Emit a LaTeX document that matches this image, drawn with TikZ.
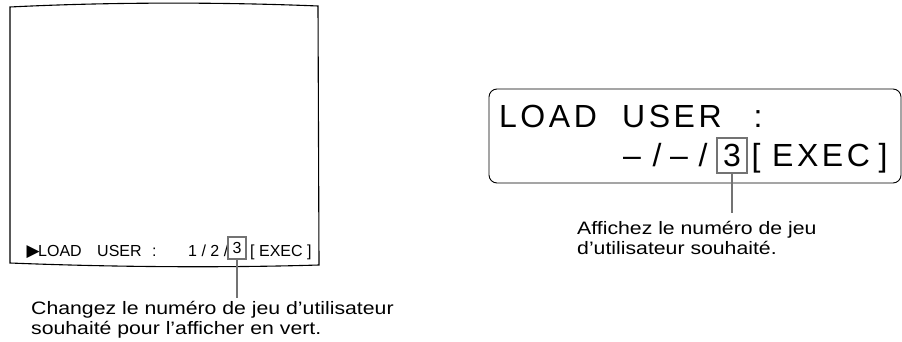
\documentclass[tikz,border=0pt]{standalone}
\usepackage{fontspec}
\setmainfont{Liberation Sans}
\newfontfamily\lcdfont[LetterSpace=11]{Liberation Sans}
\newfontfamily\notefont[FakeStretch=1.18]{Liberation Sans}
\newfontfamily\symfont{DejaVu Sans}
\usetikzlibrary{positioning}
\tikzstyle{screen}=[draw,line width=1.1pt]
\tikzstyle{lcdbox}=[rectangle,draw,rounded corners=8pt,line width=0.9pt,minimum width=412pt,minimum height=94pt]
\tikzstyle{lcdtxt}=[inner sep=0pt,anchor=base west,font=\lcdfont\fontsize{32}{36}\selectfont]
\tikzstyle{lcdchar}=[inner sep=0pt,anchor=base,font=\fontsize{32}{36}\selectfont]
\tikzstyle{osdtxt}=[inner sep=0pt,anchor=base west,font=\fontsize{16}{18}\selectfont]
\tikzstyle{selbox}=[rectangle,draw=black!55,line width=1.4pt,inner sep=0pt]
\tikzstyle{note}=[inner sep=0pt,anchor=north west,align=left,font=\notefont\fontsize{18}{20}\selectfont]
\tikzstyle{lead}=[draw=black!55,line width=1.2pt]

\begin{document}
\begin{tikzpicture}[x=1pt,y=-1pt]
\useasboundingbox (0,0) rectangle (902,342);
% monitor screen
\draw[screen] (10,7) .. controls (110,2) and (220,2) .. (318,6) -- (319,265)
  .. controls (220,268) and (110,267) .. (10,263) -- cycle;
\node[osdtxt] (oarrow) at (26.5,256.5) {\symfont\fontsize{17}{18}\selectfont ▶};
\node[osdtxt] (oload) at (38,256) {LOAD};
\node[osdtxt] (ouser) at (97,256) {USER};
\node[osdtxt] (ocolon) at (152,256) {:};
\node[osdtxt] (onums) at (188,256) {1 / 2 /};
\node[selbox,minimum width=18pt,minimum height=22pt,font=\fontsize{16}{18}\selectfont] (osel) at (237,248) {3};
\node[osdtxt] (oexec) at (250,256) {[ EXEC ]};
\coordinate (oleadend) at (237,298);
\draw[lead] (osel.south) -- (oleadend);
\node[note] (notel) at (31,301) {Changez le numéro de jeu d’utilisateur\\souhaité pour l’afficher en vert.};
% LCD display
\node[lcdbox] (lcd) at (695,136) {};
\node[lcdtxt] (lload) at (499,128) {LOAD};
\node[lcdtxt] (luser) at (622,128) {USER};
\node[lcdchar] (lcolon) at (758,128) {:};
\foreach \x/\c [count=\i] in {632/–,657/{/},679/–,703/{/}}
  \node[lcdchar] (lpos\i) at (\x,167) {\c};
\node[selbox,minimum width=30pt,minimum height=35pt,font=\fontsize{32}{36}\selectfont] (lsel) at (732,155.5) {3};
\node[lcdchar] (lopen) at (756,167) {[};
\node[lcdtxt] (lexec) at (772,167) {EXEC};
\node[lcdchar] (lclose) at (883,167) {]};
\coordinate (lleadend) at (732,213);
\draw[lead] (lsel.south) -- (lleadend);
\node[note] (noter) at (577,221) {Affichez le numéro de jeu\\d’utilisateur souhaité.};
\end{tikzpicture}
\end{document}
